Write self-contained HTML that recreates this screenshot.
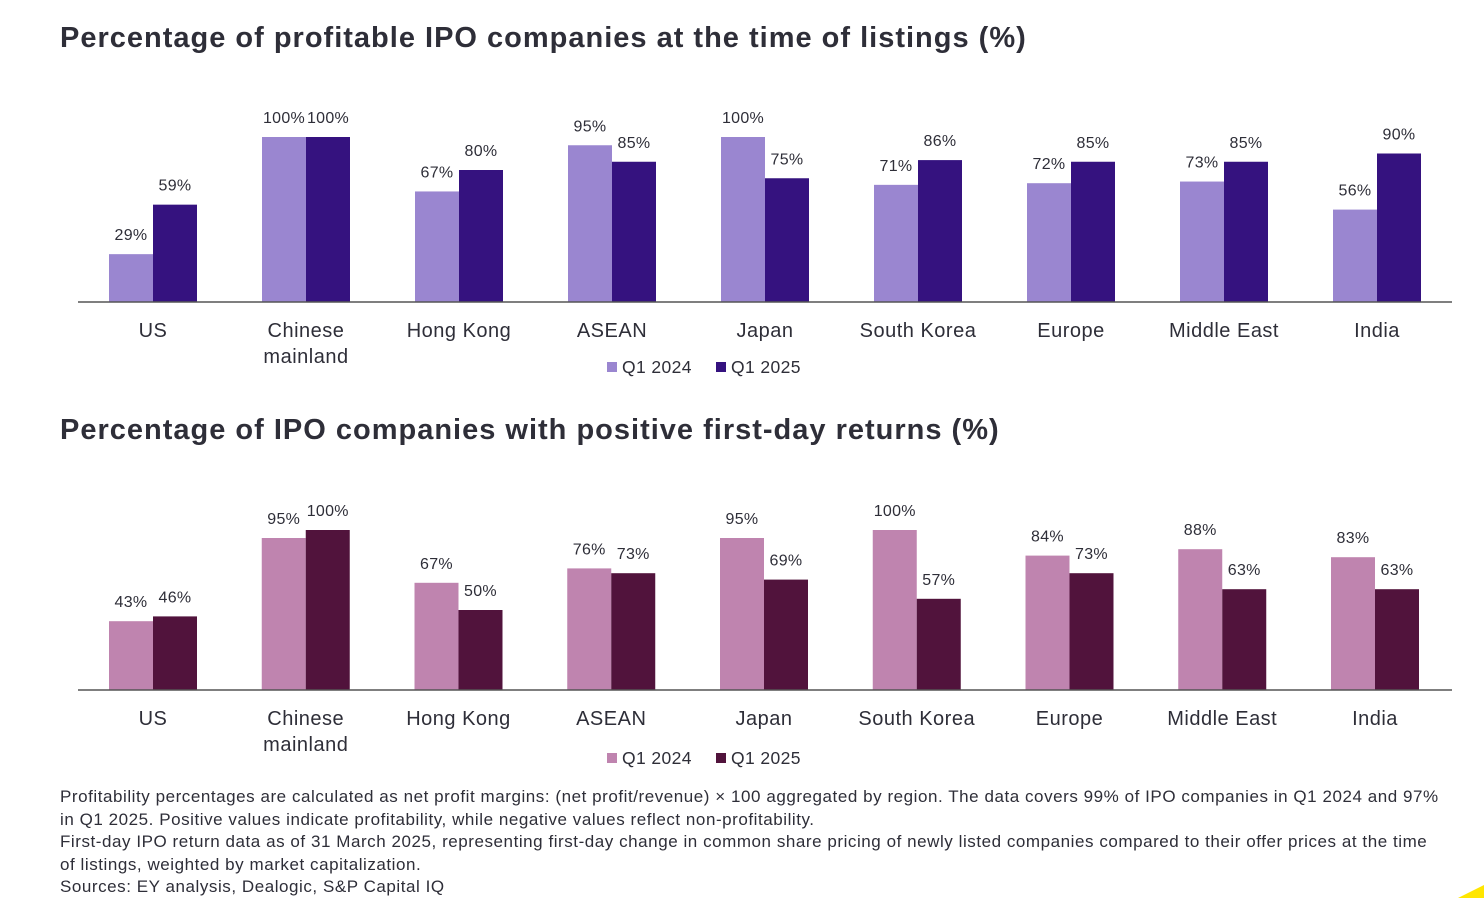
<!DOCTYPE html>
<html><head><meta charset="utf-8">
<style>
body{margin:0;background:#fff;font-family:"Liberation Sans",sans-serif;}
#wrap{position:relative;width:1484px;height:898px;overflow:hidden;}
.title{position:absolute;left:60px;font-size:29px;font-weight:bold;color:#2e2e38;letter-spacing:1px;}
.note{position:absolute;left:60px;top:786px;font-size:17px;letter-spacing:0.55px;line-height:22.5px;color:#2e2e38;width:1420px;white-space:nowrap;}
svg text{font-family:"Liberation Sans",sans-serif;fill:#2e2e38;}
</style></head><body>
<div id="wrap">
<div class="title" style="top:22px">Percentage of profitable IPO companies at the time of listings (%)</div>
<div class="title" style="top:414px">Percentage of IPO companies with positive first-day returns (%)</div>
<svg id="svg" width="1484" height="898" style="position:absolute;left:0;top:0">
<polygon points="1458,898 1484,885 1484,898" fill="#ffe600"/>
</svg>
<div class="note">Profitability percentages are calculated as net profit margins: (net profit/revenue) × 100 aggregated by region. The data covers 99% of IPO companies in Q1 2024 and 97%<br>in Q1 2025. Positive values indicate profitability, while negative values reflect non-profitability.<br>First-day IPO return data as of 31 March 2025, representing first-day change in common share pricing of newly listed companies compared to their offer prices at the time<br>of listings, weighted by market capitalization.<br>Sources: EY analysis, Dealogic, S&amp;P Capital IQ</div>
</div>
<script>
const categories=[["US"],["Chinese","mainland"],["Hong Kong"],["ASEAN"],["Japan"],["South Korea"],["Europe"],["Middle East"],["India"]];
const profit2024=[29,100,67,95,100,71,72,73,56];
const profit2025=[59,100,80,85,75,86,85,85,90];
const returns2024=[43,95,67,76,95,100,84,88,83];
const returns2025=[46,100,50,73,69,57,73,63,63];
const seriesNames=["Q1 2024","Q1 2025"];
const svg=document.getElementById('svg');
const NS='http://www.w3.org/2000/svg';
function mk(t,a){const e=document.createElementNS(NS,t);for(const k in a)e.setAttribute(k,a[k]);svg.appendChild(e);return e;}
function chart(id,base,pxPer100,centers0,step,s1,s2,c1,c2,legY){
  const y=v=>base-v/100*pxPer100;
  const x=i=>centers0+i*step;
  categories.forEach((cat,i)=>{
    [[s1,c1,-44],[s2,c2,0]].forEach(([s,c,off],k)=>{
      const r=mk('rect',{x:x(i)+off,y:y(s[i]),width:44,height:base-y(s[i]),fill:c});
      
      
      const t=mk('text',{x:x(i)+off+22,y:y(s[i])-14,'text-anchor':'middle','font-size':'16','letter-spacing':'0.3'});
      t.textContent=s[i]+'%';
      
      
    });
    cat.forEach((ln,j)=>{
      const t=mk('text',{x:x(i),y:base+35+j*26,'text-anchor':'middle','font-size':'20','letter-spacing':'0.5'});
      t.textContent=ln;
      
      
    });
  });
  const ax=mk('line',{x1:78,x2:1452,y1:base,y2:base,stroke:'#555',"stroke-width":1.5});
  
  
  [[c1,607],[c2,716]].forEach(([c,lx],k)=>{
    const r=mk('rect',{x:lx,y:legY-11,width:10,height:10,fill:c});
    
    
    const t=mk('text',{x:lx+15,y:legY,'font-size':'17.5','letter-spacing':'0.4'});
    t.textContent=seriesNames[k];
    
    
  });
}
chart('chart1',302,165,153,153,profit2024,profit2025,'#9a86d0','#35127f',373);
chart('chart2',690,160,153,152.75,returns2024,returns2025,'#bf84af','#51133c',764);
</script>
</body></html>
